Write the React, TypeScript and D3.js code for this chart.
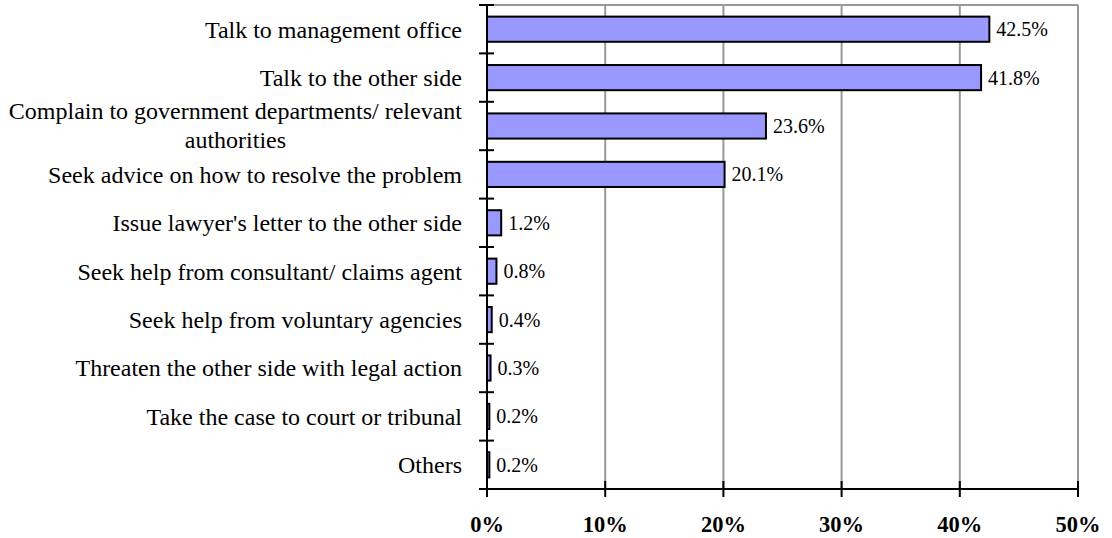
import { useEffect, useRef } from "react";
import * as d3 from "d3";

const categories = [
  ["Talk to management office"],
  ["Talk to the other side"],
  ["Complain to government departments/ relevant", "authorities"],
  ["Seek advice on how to resolve the problem"],
  ["Issue lawyer's letter to the other side"],
  ["Seek help from consultant/ claims agent"],
  ["Seek help from voluntary agencies"],
  ["Threaten the other side with legal action"],
  ["Take the case to court or tribunal"],
  ["Others"],
];
const values = [42.5, 41.8, 23.6, 20.1, 1.2, 0.8, 0.4, 0.3, 0.2, 0.2];
const xTicks = [0, 10, 20, 30, 40, 50];

const W = 1112;
const H = 538;
const FONT = "'Liberation Serif', 'Times New Roman', serif";

export default function App() {
  const svgRef = useRef<SVGSVGElement | null>(null);

  useEffect(() => {
    document.body.style.margin = "0";
    const svg = d3.select(svgRef.current);
    svg.selectAll("*").remove();

    const margin = { top: 5, right: 34, bottom: 49, left: 487 };
    const keys = categories.map((c) => c.join(" "));
    const x = d3.scaleLinear().domain([0, 50]).range([margin.left, W - margin.right]);
    const y = d3
      .scaleBand()
      .domain(keys)
      .range([margin.top, H - margin.bottom])
      .paddingInner(0.48)
      .paddingOuter(0.24);
    const step = y.step();
    const y0 = margin.top;
    const y1 = H - margin.bottom;

    // grid + frame
    svg
      .append("g")
      .selectAll("line")
      .data(xTicks.filter((t) => t > 0))
      .join("line")
      .attr("x1", (d) => x(d))
      .attr("x2", (d) => x(d))
      .attr("y1", y0)
      .attr("y2", y1)
      .attr("stroke", "#999")
      .attr("stroke-width", 2);
    svg
      .append("line")
      .attr("x1", x(0))
      .attr("x2", x(50))
      .attr("y1", y0)
      .attr("y2", y0)
      .attr("stroke", "#999")
      .attr("stroke-width", 2);

    // bars
    svg
      .append("g")
      .selectAll("rect")
      .data(values)
      .join("rect")
      .attr("x", x(0))
      .attr("y", (_, i) => y(keys[i])!)
      .attr("width", (d) => x(d) - x(0))
      .attr("height", y.bandwidth())
      .attr("fill", "#9999ff")
      .attr("stroke", "#000")
      .attr("stroke-width", 2);

    // value labels
    svg
      .append("g")
      .selectAll("text")
      .data(values)
      .join("text")
      .attr("x", (d) => x(d) + 7)
      .attr("y", (_, i) => y(keys[i])! + y.bandwidth() / 2)
      .attr("dy", "0.35em")
      .attr("font-family", FONT)
      .attr("font-size", 20)
      .text((d) => d.toFixed(1) + "%");

    // y axis line and crossing ticks
    svg
      .append("line")
      .attr("x1", x(0))
      .attr("x2", x(0))
      .attr("y1", y0 - 1)
      .attr("y2", y1 + 1)
      .attr("stroke", "#000")
      .attr("stroke-width", 2);
    svg
      .append("g")
      .selectAll("line")
      .data(d3.range(categories.length + 1))
      .join("line")
      .attr("x1", x(0) - 8)
      .attr("x2", x(0) + 7)
      .attr("y1", (i) => y0 + i * step)
      .attr("y2", (i) => y0 + i * step)
      .attr("stroke", "#000")
      .attr("stroke-width", 2);

    // x axis line and crossing ticks
    svg
      .append("line")
      .attr("x1", x(0) - 8)
      .attr("x2", x(50))
      .attr("y1", y1)
      .attr("y2", y1)
      .attr("stroke", "#000")
      .attr("stroke-width", 2);
    svg
      .append("g")
      .selectAll("line")
      .data(xTicks)
      .join("line")
      .attr("x1", (d) => x(d))
      .attr("x2", (d) => x(d))
      .attr("y1", y1 - 8)
      .attr("y2", y1 + 8)
      .attr("stroke", "#000")
      .attr("stroke-width", 2);
    svg
      .append("g")
      .selectAll("text")
      .data(xTicks)
      .join("text")
      .attr("x", (d) => x(d))
      .attr("y", y1 + 43)
      .attr("text-anchor", "middle")
      .attr("font-family", FONT)
      .attr("font-size", 22.5)
      .attr("font-weight", "bold")
      .text((d) => d + "%");

    // category labels
    const labelX = x(0) - 25;
    categories.forEach((lines, i) => {
      const cy = y(keys[i])! + y.bandwidth() / 2;
      if (lines.length === 1) {
        svg
          .append("text")
          .attr("x", labelX)
          .attr("y", cy)
          .attr("dy", "0.35em")
          .attr("text-anchor", "end")
          .attr("font-family", FONT)
          .attr("font-size", 24)
          .text(lines[0]);
      } else {
        const g = svg.append("text").attr("font-family", FONT).attr("font-size", 24);
        const t0 = g.append("tspan").attr("x", labelX).attr("y", cy - 15).attr("dy", "0.35em").attr("text-anchor", "end").text(lines[0]);
        const w = (t0.node() as SVGTextContentElement).getComputedTextLength();
        g.append("tspan")
          .attr("x", labelX - w / 2)
          .attr("y", cy + 14)
          .attr("dy", "0.35em")
          .attr("text-anchor", "middle")
          .text(lines[1]);
      }
    });
  }, []);

  return <svg ref={svgRef} width={W} height={H} style={{ display: "block", background: "#fff" }} />;
}
